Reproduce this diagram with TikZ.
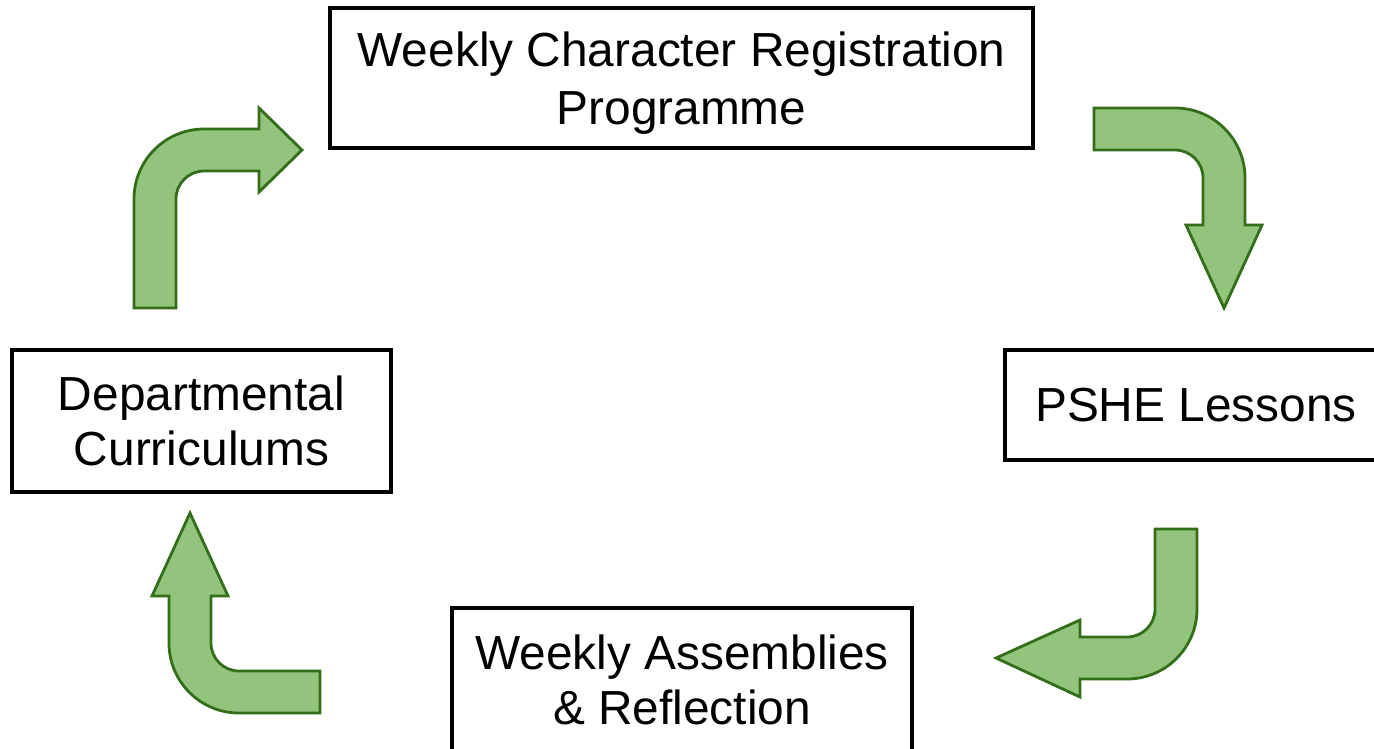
\documentclass[tikz,border=0pt]{standalone}
\usepackage{fontspec}
\setmainfont{Liberation Sans}
\definecolor{arrowfill}{HTML}{93C47D}
\definecolor{arrowline}{HTML}{336E1A}
\tikzset{
  stage/.style={draw=black, line width=0.04cm, fill=white, align=center, inner sep=0pt,
    font=\fontsize{13.6}{15.8}\selectfont},
  bentarrow/.style={fill=arrowfill, draw=arrowline, line width=0.8pt, line join=miter}
}
\begin{document}
\begin{tikzpicture}[x=0.01cm, y=-0.01cm]
  \useasboundingbox (0,0) rectangle (1374,748);

  % Etapas del ciclo
  \node[stage, minimum width=7.03cm, minimum height=1.40cm, text depth=0pt,
    font=\fontsize{13.6}{16.6}\selectfont]
    (registration) at (681.5,78) {Weekly Character Registration\\Programme};
  \node[stage, minimum width=3.82cm, minimum height=1.09cm] (pshe) at (1196,405)
    {PSHE Lessons};
  \node[stage, minimum width=4.60cm, minimum height=1.44cm] (assemblies) at (682,680)
    {Weekly Assemblies\\\& Reflection};
  \node[stage, minimum width=3.79cm, minimum height=1.42cm] (curriculums) at (201.5,421)
    {Departmental\\Curriculums};

  % Flechas curvas
  \draw[bentarrow] (134,308) -- (134,199) arc[start angle=180, end angle=270, radius=70]
    -- (259,129) -- (259,108) -- (302,150) -- (259,192) -- (259,171)
    -- (204,171) arc[start angle=270, end angle=180, radius=28] -- (176,308) -- cycle;
  \draw[bentarrow] (1094,108) -- (1175,108) arc[start angle=270, end angle=360, radius=70]
    -- (1245,225) -- (1262,225) -- (1224,308) -- (1186,225) -- (1203,225)
    -- (1203,178) arc[start angle=360, end angle=270, radius=28] -- (1094,150) -- cycle;
  \draw[bentarrow] (1155,529) -- (1197,529) -- (1197,609) arc[start angle=0, end angle=90, radius=70]
    -- (1080,679) -- (1080,697) -- (996,658) -- (1080,620) -- (1080,637)
    -- (1127,637) arc[start angle=90, end angle=0, radius=28] -- cycle;
  \draw[bentarrow] (320,713) -- (239,713) arc[start angle=90, end angle=180, radius=70]
    -- (169,596) -- (152,596) -- (190,513) -- (228,596) -- (211,596)
    -- (211,643) arc[start angle=180, end angle=90, radius=28] -- (320,671) -- cycle;
\end{tikzpicture}
\end{document}
